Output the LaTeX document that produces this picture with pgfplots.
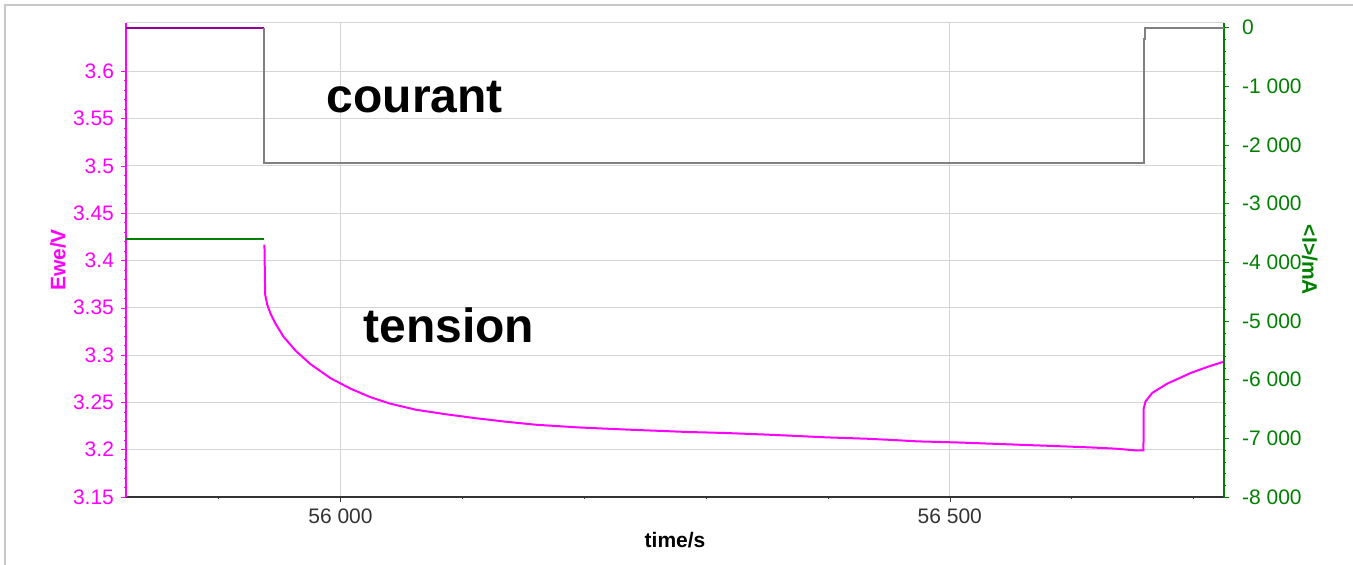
\documentclass[border=0pt]{standalone}
\usepackage{pgfplots}
\pgfplotsset{compat=1.18}
\usepackage{fontspec}
\setmainfont{Liberation Sans}

\definecolor{ewe}{RGB}{255,0,255}
\definecolor{curr}{RGB}{0,128,0}
\definecolor{gridc}{RGB}{212,212,212}
\definecolor{stepc}{RGB}{128,128,128}
\definecolor{darkpurp}{RGB}{150,0,150}
\definecolor{framec}{RGB}{200,200,200}

\tikzset{lblfont/.style={font=\fontsize{10.5}{12}\selectfont\bfseries}}

\pgfplotsset{
  base/.style={
    scale only axis, width=549pt, height=237pt,
    xmin=55824, xmax=56725,
    scaled x ticks=false, scaled y ticks=false,
    /pgf/number format/assume math mode=true,
    /pgf/number format/1000 sep={\ },
    tick label style={font=\fontsize{10.5}{12}\selectfont},
    tick align=outside,
    major tick length=2.5pt, minor tick length=1.2pt,
  },
}

\begin{document}
\begin{tikzpicture}
\useasboundingbox (-63pt,-34pt) rectangle (613.5pt,248.5pt);
\draw[framec, line width=0.6pt] (-60.5pt,-40pt) -- (-60.5pt,246pt) -- (620pt,246pt);

% tension (left axis)
\begin{axis}[base,
  ymin=3.15, ymax=3.651,
  axis x line*=bottom, axis y line*=left,
  xtick={56000,56500},
  minor xtick={55900,56100,56200,56300,56400,56600,56700},
  ytick={3.15,3.2,3.25,3.3,3.35,3.4,3.45,3.5,3.55,3.6},
  minor y tick num=4,
  yticklabel style={color=ewe, /pgf/number format/fixed, /pgf/number format/precision=2},
  xticklabel style={color=black!80},
  xtick style={black!75}, ytick style={ewe},
  xmajorgrids, ymajorgrids,
  grid style={gridc, line width=0.5pt},
  x axis line style={black!80, line width=0.6pt},
  y axis line style={ewe, line width=0.6pt},
  xlabel={time/s}, ylabel={Ewe/V},
  every axis x label/.style={at={(axis description cs:0.5,-0.091)}, anchor=center, lblfont, color=black},
  every axis y label/.style={at={(axis description cs:-0.062,0.5)}, anchor=center, rotate=90, lblfont, color=ewe},
]
\draw[gridc, line width=0.5pt] (rel axis cs:0,1) -- (rel axis cs:1,1);

\addplot[curr, line width=1pt] coordinates {(55824,3.4227) (55937.6,3.4227)};

\addplot[ewe, line width=1pt] coordinates {
(55937.6,3.4167) (55938.2,3.3639) (55939.9,3.3533) (55942.6,3.3438)
(55946.7,3.3332) (55953.2,3.3195) (55963.1,3.3047) (55975.4,3.2904)
(55991.8,3.2756) (56008.2,3.2645) (56024.6,3.2555) (56041.0,3.2486)
(56061.6,3.2423) (56086.2,3.2375) (56110.8,3.2333) (56135.4,3.2296)
(56160.0,3.2264) (56194.2,3.2236) (56218.0,3.2222) (56243.5,3.2208)
(56264.0,3.2198) (56284.5,3.2187) (56314.5,3.2177) (56344.7,3.2162)
(56369.3,3.2148) (56399.4,3.2130) (56431.6,3.2116) (56454.0,3.2102)
(56473.2,3.2088) (56504.7,3.2077) (56534.8,3.2063) (56555.3,3.2053)
(56585.3,3.2039) (56615.4,3.2024) (56635.9,3.2011) (56652.1,3.1993)
(56658.9,3.1993) (56659.0,3.2430) (56660.6,3.2510) (56666.1,3.2600)
(56678.4,3.2698) (56697.5,3.2810) (56711.2,3.2874) (56725.4,3.2933)
};

\node[anchor=base west, inner sep=0pt, font=\fontsize{24}{28}\selectfont\bfseries]
  at (axis cs:55988.5,3.5559) {courant};
\node[anchor=base west, inner sep=0pt, font=\fontsize{24}{28}\selectfont\bfseries]
  at (axis cs:56018.6,3.3128) {tension};
\end{axis}

% courant (right axis)
\begin{axis}[base,
  ymin=-8000, ymax=80,
  axis y line*=right, axis x line=none,
  ytick={-8000,-7000,...,0},
  minor y tick num=4,
  yticklabel style={color=curr, xshift=3pt},
  ytick style={curr},
  y axis line style={curr, line width=0.6pt},
  ylabel={<I>/mA},
  every axis y label/.style={at={(axis description cs:1.078,0.5)}, anchor=center, rotate=-90, lblfont, color=curr},
]
\addplot[darkpurp, line width=1pt] coordinates {(55824,0) (55937.6,0)};
\addplot[stepc, line width=1pt] coordinates {
(55937.6,0) (55937.6,-2314) (56659.0,-2314) (56659.0,-200)
(56660.4,-200) (56660.4,0) (56725.4,0)
};
\end{axis}
\end{tikzpicture}
\end{document}
